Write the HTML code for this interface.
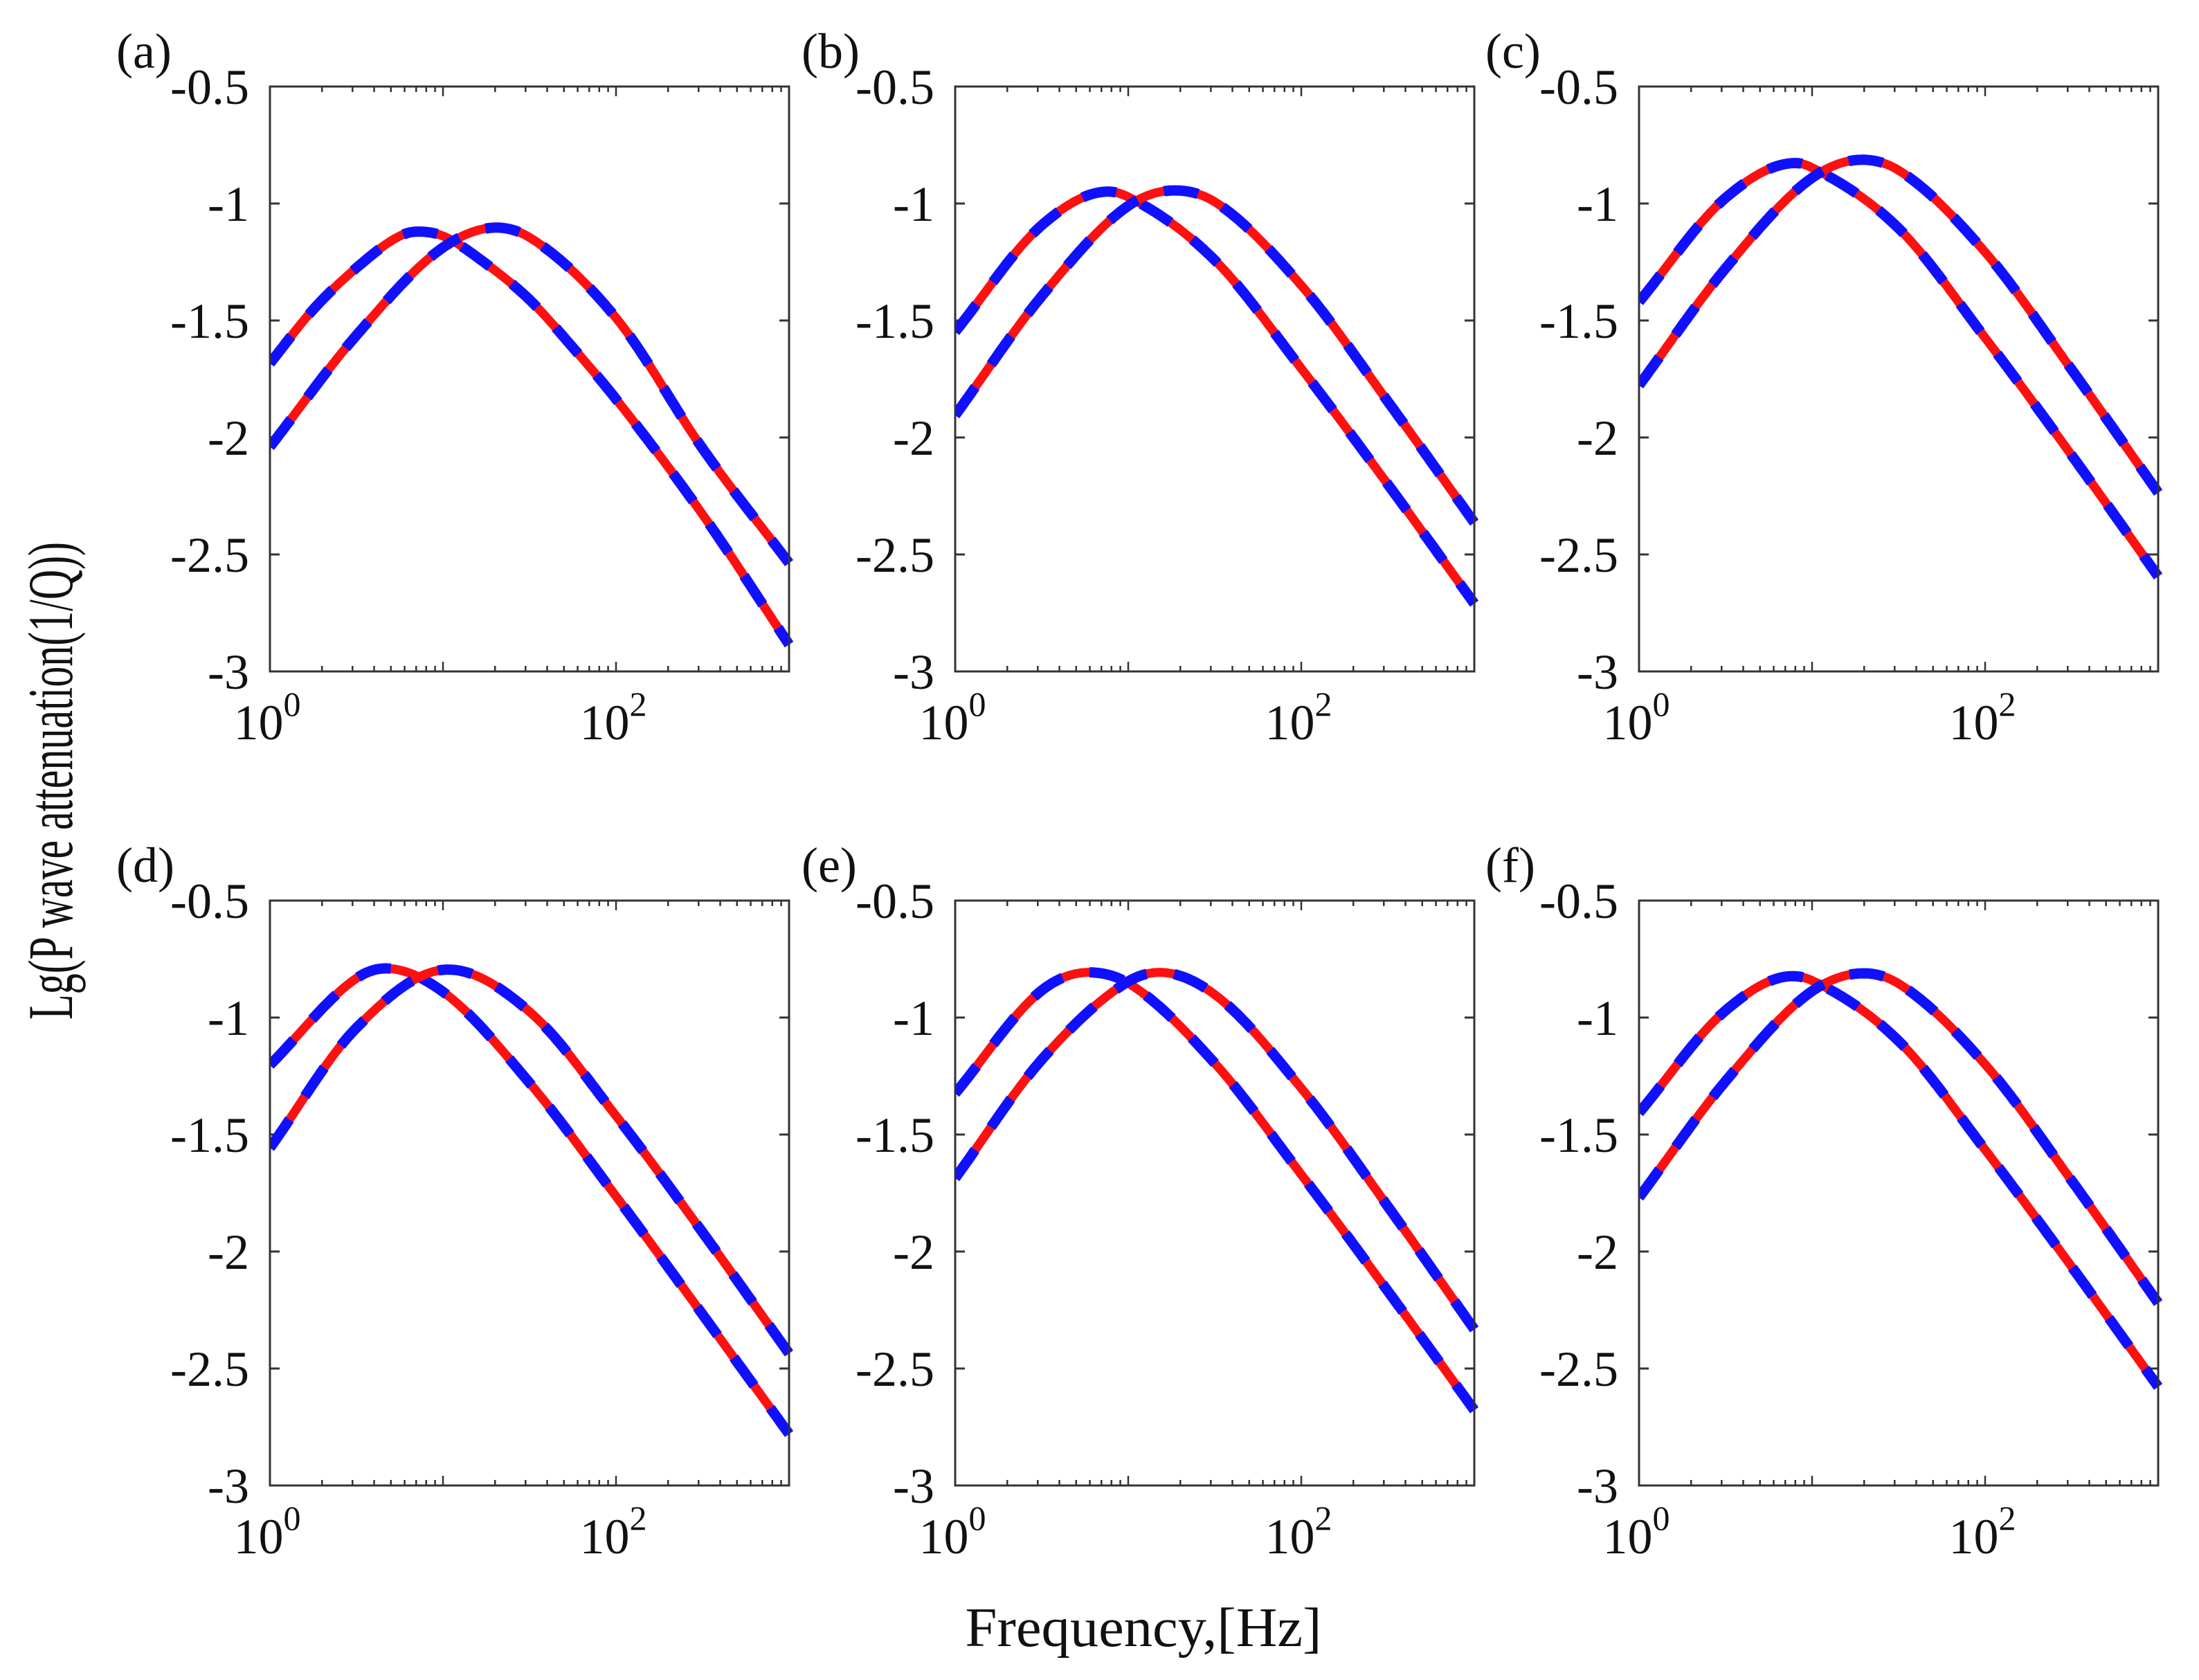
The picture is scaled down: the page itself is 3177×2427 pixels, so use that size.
<!DOCTYPE html>
<html><head><meta charset="utf-8"><style>
html,body{margin:0;padding:0;background:#fff;}
svg{display:block;}
text{font-family:"Liberation Serif","Times New Roman",serif;fill:#111;}
</style></head><body>
<svg id="fig" width="3177" height="2427" viewBox="0 0 3177 2427" xmlns="http://www.w3.org/2000/svg">
<rect width="3177" height="2427" fill="#fff"/>
<text x="0" y="0" font-size="92" text-anchor="middle" textLength="690" lengthAdjust="spacingAndGlyphs" transform="translate(104,1128) rotate(-90)">Lg(P wave attenuation(1/Q))</text>
<text x="1652" y="2378" font-size="80" text-anchor="middle" textLength="515" lengthAdjust="spacingAndGlyphs">Frequency,[Hz]</text>
</svg>
<script>
// Panel labels and axis ticks
var panelLabels = ["(a)","(b)","(c)","(d)","(e)","(f)"];
var yTicks = [-0.5,-1,-1.5,-2,-2.5,-3];
var yTickLabels = ["-0.5","-1","-1.5","-2","-2.5","-3"];
var xTickExps = [0,2];
// Data: log10(frequency) and Lg(1/Q) for curve A (left peak) and curve B (right peak)
var aAx=[0,0.25,0.5,0.75,0.855,1,1.25,1.5,1.75,2,2.5,3];
var aAy=[-1.683,-1.453,-1.275,-1.139,-1.12,-1.139,-1.258,-1.411,-1.615,-1.836,-2.329,-2.885];
var aBx=[0,0.5,1,1.31,1.5,2,2.5,3];    var aBy=[-2.04,-1.563,-1.188,-1.103,-1.145,-1.489,-2.047,-2.537];
var bAx=[0,0.5,0.885,1,1.5,2,2.5,3];   var bAy=[-1.548,-1.093,-0.949,-0.972,-1.242,-1.705,-2.2,-2.71];
var bBx=[0,0.5,1,1.27,1.5,2,2.5,3];    var bBy=[-1.905,-1.396,-1.01,-0.944,-0.993,-1.35,-1.846,-2.364];
var cAx=[0,0.5,0.906,1,1.5,2,2.5,3];   var cAy=[-1.42,-0.976,-0.827,-0.847,-1.106,-1.574,-2.076,-2.594];
var cBx=[0,0.5,1,1.29,1.5,2,2.5,3];    var cBy=[-1.777,-1.277,-0.89,-0.813,-0.858,-1.208,-1.71,-2.236];
var dAx=[0,0.5,0.666,1,1.5,2,2.5,3];   var dAy=[-1.203,-0.832,-0.79,-0.89,-1.279,-1.764,-2.269,-2.78];
var dBx=[0,0.5,1.03,1.5,2,2.5,3];      var dBy=[-1.557,-1.044,-0.795,-0.975,-1.42,-1.918,-2.436];
var eAx=[0,0.5,0.773,1,1.5,2,2.5,3];   var eAy=[-1.324,-0.884,-0.807,-0.853,-1.195,-1.671,-2.169,-2.678];
var eBx=[0,0.5,1,1.18,1.5,2,2.5,3];    var eBy=[-1.686,-1.18,-0.846,-0.807,-0.902,-1.302,-1.807,-2.333];
var fAx=[0,0.5,0.889,1,1.5,2,2.5,3];   var fAy=[-1.407,-0.97,-0.823,-0.842,-1.1,-1.565,-2.065,-2.578];
var fBx=[0,0.5,1,1.3,1.5,2,2.5,3];     var fBy=[-1.769,-1.272,-0.887,-0.811,-0.855,-1.2,-1.697,-2.22];

var panelCurves = [[[aAx,aAy],[aBx,aBy]],[[bAx,bAy],[bBx,bBy]],[[cAx,cAy],[cBx,cBy]],
                   [[dAx,dAy],[dBx,dBy]],[[eAx,eAy],[eBx,eBy]],[[fAx,fAy],[fBx,fBy]]];

var NS="http://www.w3.org/2000/svg";
var svg=document.getElementById('fig');
var colL=[390,1380,2368], rowT=[125,1301], PW=750, PH=845;
var xMin=0,xMax=3,yMin=-3,yMax=-0.5;

function mk(tag,attrs,parent){var e=document.createElementNS(NS,tag);for(var k in attrs)e.setAttribute(k,attrs[k]);(parent||svg).appendChild(e);return e;}

function monotone(X,Y,n){
  var N=X.length,d=[],m=[];
  for(var i=0;i<N-1;i++)d.push((Y[i+1]-Y[i])/(X[i+1]-X[i]));
  m[0]=d[0];m[N-1]=d[N-2];
  for(var i=1;i<N-1;i++){m[i]=(d[i-1]*d[i]<=0)?0:(d[i-1]+d[i])/2;}
  for(var i=0;i<N-1;i++){
    if(d[i]===0){m[i]=0;m[i+1]=0;continue;}
    var a=m[i]/d[i],b=m[i+1]/d[i],s=a*a+b*b;
    if(s>9){var t=3/Math.sqrt(s);m[i]=t*a*d[i];m[i+1]=t*b*d[i];}
  }
  var out=[];
  for(var k=0;k<=n;k++){
    var x=X[0]+(X[N-1]-X[0])*k/n,i=0;
    while(i<N-2&&x>X[i+1])i++;
    var h=X[i+1]-X[i],t=(x-X[i])/h,t2=t*t,t3=t2*t;
    var y=(2*t3-3*t2+1)*Y[i]+(t3-2*t2+t)*h*m[i]+(-2*t3+3*t2)*Y[i+1]+(t3-t2)*h*m[i+1];
    out.push([x,y]);
  }
  return out;
}

for(var p=0;p<6;p++){
  var L=colL[p%3],T=rowT[Math.floor(p/3)];
  var xs=(function(L){return function(v){return L+(v-xMin)/(xMax-xMin)*PW;};})(L);
  var ys=(function(T){return function(v){return T+(yMax-v)/(yMax-yMin)*PH;};})(T);
  var g=mk('g',{});
  
  
  var cp=mk('clipPath',{id:'clip'+p},g);
  mk('rect',{x:L,y:T-8,width:PW+8,height:PH+16},cp);
  var lab=mk('text',{x:L-222,y:T-27,'font-size':72},g);lab.textContent=panelLabels[p];
  
  
  for(var i=0;i<yTicks.length;i++){
    var yy=ys(yTicks[i]);
    var t=mk('text',{x:L-30,y:yy+25,'font-size':72,'text-anchor':'end'},g);t.textContent=yTickLabels[i];
    
    
    mk('line',{x1:L,y1:yy,x2:L+14,y2:yy,stroke:'#333','stroke-width':3},g);
    mk('line',{x1:L+PW,y1:yy,x2:L+PW-14,y2:yy,stroke:'#333','stroke-width':3},g);
  }
  for(var dcd=0;dcd<3;dcd++){
    for(var m=1;m<=9;m++){
      var lv=dcd+Math.log10(m);var xx=xs(lv);var len=(m==1)?14:8;
      mk('line',{x1:xx,y1:T+PH,x2:xx,y2:T+PH-len,stroke:'#333','stroke-width':2.5},g);
      mk('line',{x1:xx,y1:T,x2:xx,y2:T+len,stroke:'#333','stroke-width':2.5},g);
    }
  }
  for(var i=0;i<xTickExps.length;i++){
    var xx=xs(xTickExps[i]);
    var t=mk('text',{x:xx-4,y:T+PH+98,'font-size':72,'text-anchor':'middle'},g);
    t.textContent='10';
    
    
    var s=mk('tspan',{'font-size':50,dy:-34},t);s.textContent=String(xTickExps[i]);
  }
  var cg=mk('g',{'clip-path':'url(#clip'+p+')'},g);
  for(var c=0;c<2;c++){
    var X=panelCurves[p][c][0],Y=panelCurves[p][c][1];
    var sm=monotone(X,Y,240);
    var d="";
    for(var k=0;k<sm.length;k++)d+=(k?"L":"M")+xs(sm[k][0]).toFixed(1)+","+ys(sm[k][1]).toFixed(1);
    var red=mk('path',{d:d,fill:'none',stroke:'#ff1010','stroke-width':13,'stroke-linejoin':'round'},cg);
    
    
    var blue=mk('path',{d:d,fill:'none',stroke:'#1010ff','stroke-width':15,'stroke-dasharray':'50 40','stroke-linejoin':'round'},cg);
    
    
  }
  mk('rect',{x:L,y:T,width:PW,height:PH,fill:'none',stroke:'#333','stroke-width':3},g);
}
</script>
</body></html>
